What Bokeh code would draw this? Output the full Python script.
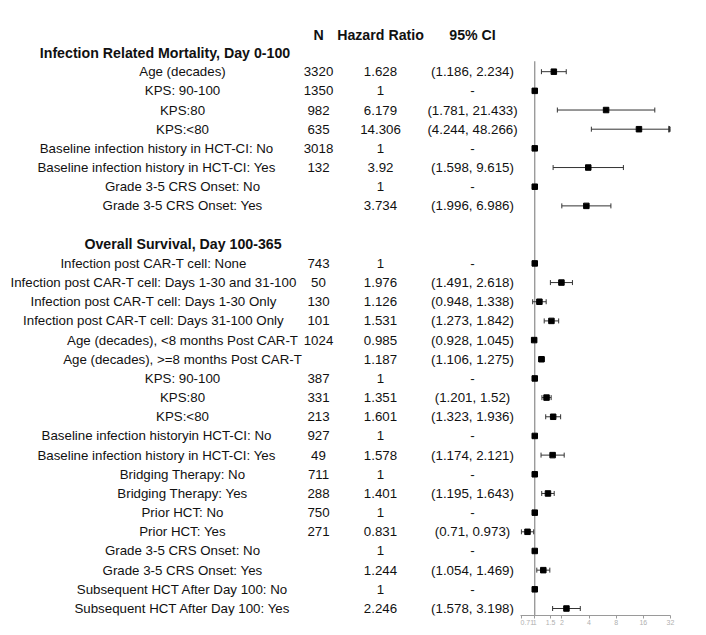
import numpy as np
from bokeh.plotting import figure
from bokeh.models import ColumnDataSource, Range1d, FixedTicker
from bokeh.layouts import row
from bokeh.embed import file_html
from bokeh.resources import INLINE
from bokeh.core.properties import value

# ---------------- data ----------------
header = ["N", "Hazard Ratio", "95% CI"]
section_titles = ["Infection Related Mortality, Day 0-100", "Overall Survival, Day 100-365"]

sec1_labels = [
    "Age (decades)",
    "KPS: 90-100",
    "KPS:80",
    "KPS:<80",
    "Baseline infection history in HCT-CI: No",
    "Baseline infection history in HCT-CI: Yes",
    "Grade 3-5 CRS Onset: No",
    "Grade 3-5 CRS Onset: Yes",
]
sec1_n = ["3320", "1350", "982", "635", "3018", "132", "", ""]
sec1_hr = [1.628, 1, 6.179, 14.306, 1, 3.92, 1, 3.734]
sec1_lo = [1.186, np.nan, 1.781, 4.244, np.nan, 1.598, np.nan, 1.996]
sec1_hi = [2.234, np.nan, 21.433, 48.266, np.nan, 9.615, np.nan, 6.986]

sec2_labels = [
    "Infection post CAR-T cell: None",
    "Infection post CAR-T cell: Days 1-30 and 31-100",
    "Infection post CAR-T cell: Days 1-30 Only",
    "Infection post CAR-T cell: Days 31-100 Only",
    "Age (decades), <8 months Post CAR-T",
    "Age (decades), >=8 months Post CAR-T",
    "KPS: 90-100",
    "KPS:80",
    "KPS:<80",
    "Baseline infection historyin HCT-CI: No",
    "Baseline infection history in HCT-CI: Yes",
    "Bridging Therapy: No",
    "Bridging Therapy: Yes",
    "Prior HCT: No",
    "Prior HCT: Yes",
    "Grade 3-5 CRS Onset: No",
    "Grade 3-5 CRS Onset: Yes",
    "Subsequent HCT After Day 100: No",
    "Subsequent HCT After Day 100: Yes",
]
sec2_n = ["743", "50", "130", "101", "1024", "", "387", "331", "213",
          "927", "49", "711", "288", "750", "271", "", "", "", ""]
sec2_hr = [1, 1.976, 1.126, 1.531, 0.985, 1.187, 1, 1.351, 1.601,
           1, 1.578, 1, 1.401, 1, 0.831, 1, 1.244, 1, 2.246]
sec2_lo = [np.nan, 1.491, 0.948, 1.273, 0.928, 1.106, np.nan, 1.201, 1.323,
           np.nan, 1.174, np.nan, 1.195, np.nan, 0.71, np.nan, 1.054, np.nan, 1.578]
sec2_hi = [np.nan, 2.618, 1.338, 1.842, 1.045, 1.275, np.nan, 1.52, 1.936,
           np.nan, 2.121, np.nan, 1.643, np.nan, 0.973, np.nan, 1.469, np.nan, 3.198]

x_ticks = [0.71, 1, 1.5, 2, 4, 8, 16, 32]
x_max = 32

# ---------------- layout / style ----------------
FONT = "Liberation Sans"
REG = "13.3px"
BOLD = "14.2px"
TXT = "#111111"
H = 627
BOTTOM = 12
FRAME_B = H - BOTTOM
ROW0_PX, ROW_LAST_PX, LAST_ROW = 52.0, 608.0, 29
PX_ROW = (ROW_LAST_PX - ROW0_PX) / LAST_ROW
Y_RANGE = ((FRAME_B - ROW0_PX) / PX_ROW, -ROW0_PX / PX_ROW)
LEFT_W = 520
RIGHT_W = 170

labels = sec1_labels + sec2_labels
ns = sec1_n + sec2_n
hr = np.array(sec1_hr + sec2_hr, dtype=float)
lo = np.array(sec1_lo + sec2_lo, dtype=float)
hi = np.array(sec1_hi + sec2_hi, dtype=float)
ys = list(range(1, 1 + len(sec1_labels))) + list(range(11, 11 + len(sec2_labels)))
title_ys = [0, 10]


def label_center(lbl):
    if lbl.startswith("Infection post"):
        return 153
    if lbl.startswith("Baseline"):
        return 156
    return 182


hr_txt = [f"{v:g}" for v in hr]
ci_txt = ["-" if np.isnan(a) else f"({a:g}, {b:g})" for a, b in zip(lo, hi)]

# ---------------- left table ----------------
pt = figure(width=LEFT_W, height=H, x_range=Range1d(0, LEFT_W), y_range=Range1d(*Y_RANGE),
            output_backend="svg", toolbar_location=None, x_axis_location=None,
            y_axis_location=None, min_border_left=0, min_border_right=0,
            min_border_top=0, min_border_bottom=BOTTOM)
pt.grid.visible = False
pt.outline_line_color = None

src = ColumnDataSource(dict(
    lx=[label_center(l) for l in labels], y=ys, label=labels,
    nx=[318] * len(labels), n=ns,
    hx=[380] * len(labels), hr=hr_txt,
    cx=[472] * len(labels), ci=ci_txt,
))
common = dict(text_align="center", text_baseline="middle", text_font=value(FONT),
              text_font_size=REG, text_color=TXT)
pt.text(x="lx", y="y", text="label", source=src, **common)
pt.text(x="nx", y="y", text="n", source=src, **common)
pt.text(x="hx", y="y", text="hr", source=src, **common)
pt.text(x="cx", y="y", text="ci", source=src, **common)

bold = dict(text_align="center", text_baseline="middle", text_font=value(FONT),
            text_font_size=BOLD, text_font_style="bold", text_color=TXT)
pt.text(x=[164.5, 182.5], y=title_ys, text=section_titles, **bold)
pt.text(x=[318, 380, 472], y=[-0.93] * 3, text=header, **bold)

# ---------------- forest plot ----------------
pf = figure(width=RIGHT_W, height=H, x_axis_type="log", x_range=Range1d(0.695, x_max),
            y_range=Range1d(*Y_RANGE), output_backend="svg", toolbar_location=None,
            y_axis_location=None, min_border_left=0, min_border_right=RIGHT_W - 150,
            min_border_top=0, min_border_bottom=BOTTOM)
pf.grid.visible = False
pf.outline_line_color = None
pf.xaxis.ticker = FixedTicker(ticks=x_ticks)
pf.xaxis.axis_line_color = "#9a9a9a"
pf.xaxis.major_tick_line_color = "#9a9a9a"
pf.xaxis.minor_tick_line_color = None
pf.xaxis.major_tick_out = 3
pf.xaxis.major_tick_in = 0
pf.xaxis.major_label_standoff = 1
pf.xaxis.major_label_text_font_size = "7px"
pf.xaxis.major_label_text_color = "#b0b0b0"
pf.xaxis.major_label_text_font = FONT

# reference line at HR = 1
pf.segment(x0=[1], x1=[1], y0=[0.45], y1=[Y_RANGE[0] + 1], line_color="#8a8a8a", line_width=1.2)

has_ci = ~np.isnan(lo)
hi_clip = np.minimum(hi, x_max)
trunc = has_ci & (hi > x_max)
ys_arr = np.array(ys, dtype=float)

ci_src = ColumnDataSource(dict(lo=lo[has_ci], hi=hi_clip[has_ci], y=ys_arr[has_ci]))
pf.segment(x0="lo", x1="hi", y0="y", y1="y", source=ci_src, line_color="#333333", line_width=1)
pf.scatter(x="lo", y="y", source=ci_src, marker="dash", angle=np.pi / 2, size=5,
           line_color="#333333", line_width=1)
cap_hi = has_ci & ~trunc
pf.scatter(x=hi[cap_hi], y=ys_arr[cap_hi], marker="dash", angle=np.pi / 2, size=5,
           line_color="#333333", line_width=1)
pf.scatter(x=hi_clip[trunc], y=ys_arr[trunc], marker="triangle", angle=-np.pi / 2, size=6,
           fill_color="#333333", line_color="#333333")

pf.scatter(x=hr, y=ys_arr, marker="square", size=5.5, fill_color="black", line_color="black")

layout = row(pt, pf)
open("out.html", "w").write(file_html(layout, INLINE))
